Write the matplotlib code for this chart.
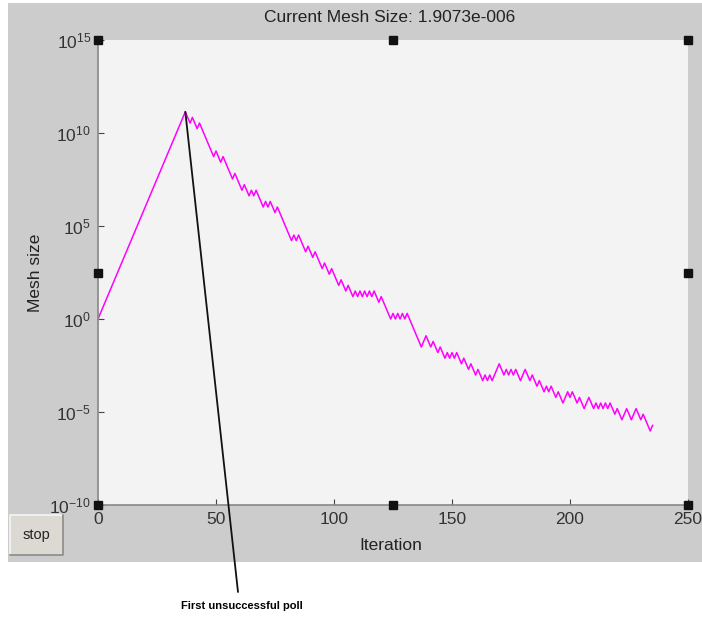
import matplotlib
matplotlib.use("Agg")
import matplotlib.pyplot as plt
from matplotlib.patches import Rectangle
from matplotlib.patches import ConnectionPatch
from matplotlib.lines import Line2D
import numpy as np

plt.rcParams['font.family'] = ['Liberation Sans', 'DejaVu Sans']
plt.rcParams['mathtext.fontset'] = 'custom'
plt.rcParams['mathtext.rm'] = 'Liberation Sans'

# log2 of mesh size per iteration (0..235)
mesh_log2 = [
    0, 1, 2, 3, 4, 5, 6, 7, 8, 9, 10, 11, 12, 13, 14, 15, 16, 17, 18, 19,
    20, 21, 22, 23, 24, 25, 26, 27, 28, 29, 30, 31, 32, 33, 34, 35, 36, 37,
    36, 35, 36, 35, 34, 35, 34, 33, 32, 31, 30,
    29, 30, 29, 28, 29, 28, 27, 26,
    25, 26, 25, 24, 23, 24, 23,
    22, 23, 22, 23, 22, 21, 20,
    21, 20, 21, 20, 19, 20, 19, 18,
    17, 16, 15, 14, 15, 14, 15, 14, 13, 12,
    13, 12, 11, 12, 11, 10, 9, 10, 9, 8,
    9, 8, 7, 6, 7, 6, 5, 6, 5, 4,
    5, 4, 5, 4, 5, 4, 5, 4, 5, 4, 3, 4, 3,
    2, 1, 0, 1, 0, 1, 0, 1, 0, 1, 0, -1,
    -2, -3, -4, -5, -4, -3, -4, -5, -4, -5,
    -6, -5, -6, -7, -6, -7, -6, -7, -6, -7, -8, -7,
    -8, -9, -8, -9, -10, -9, -10, -11, -10, -11, -10, -11, -10,
    -9, -8, -9, -10, -9, -10, -9, -10,
    -9, -10, -11, -10, -9, -10, -11, -10, -11, -12, -11,
    -12, -13, -12, -13, -12, -13, -14, -13, -14, -15, -14, -13,
    -14, -13, -14, -15, -14, -15, -16, -15, -14, -15, -16,
    -15, -16, -15, -16, -15, -16, -15, -16, -17, -16, -17, -18,
    -17, -16, -17, -18, -17, -16,
    -17, -18, -17, -18, -19, -20, -19,
]
iterations = np.arange(len(mesh_log2))
mesh_size = 2.0 ** np.array(mesh_log2, dtype=float)

x_ticks = [0, 50, 100, 150, 200, 250]
y_ticks = [1e-10, 1e-5, 1e0, 1e5, 1e10, 1e15]
y_tick_labels = [r'$\mathregular{10^{-10}}$', r'$\mathregular{10^{-5}}$', r'$\mathregular{10^{0}}$',
                 r'$\mathregular{10^{5}}$', r'$\mathregular{10^{10}}$', r'$\mathregular{10^{15}}$']
title_text = "Current Mesh Size: 1.9073e-006"
annot_text = "First unsuccessful poll"
peak_iter = 37

W, H = 702, 622
fig = plt.figure(figsize=(W / 100, H / 100), dpi=100)
fig.patch.set_facecolor('white')

# gray figure panel
fig.patches.append(Rectangle((8 / W, 1 - 562 / H), 694 / W, 559 / H,
                             transform=fig.transFigure, facecolor='#cccccc',
                             edgecolor='none', zorder=-10))

ax = fig.add_axes([98 / W, 1 - 505 / H, 590 / W, 465 / H])
ax.set_zorder(1)
ax.set_facecolor('#f3f3f3')
ax.plot(iterations, mesh_size, color='#ff00ff', lw=1.1)
ax.set_yscale('log')
ax.set_xlim(0, 250)
ax.set_ylim(1e-10, 1e15)
ax.set_xticks(x_ticks)
ax.set_xticklabels([str(v) for v in x_ticks])
ax.set_yticks(y_ticks)
ax.set_yticklabels(y_tick_labels)
ax.yaxis.set_minor_locator(matplotlib.ticker.NullLocator())
ax.tick_params(direction='in', length=4, width=0.8, color='#444444',
               labelsize=12.5, labelcolor='#333333', pad=5)
for s in ['top', 'right']:
    ax.spines[s].set_visible(False)
for s in ['left', 'bottom']:
    ax.spines[s].set_color('#888888')
    ax.spines[s].set_linewidth(1.2)

# selection handles
hx = [0, 0.5, 1, 0, 1, 0, 0.5, 1]
hy = [0, 0, 0, 0.5, 0.5, 1, 1, 1]
ax.plot(hx, hy, 's', color='#111111', ms=6, transform=ax.transAxes, clip_on=False, zorder=5)

fig.text(390 / W, 1 - 18 / H, title_text, ha='center', va='center', fontsize=12.5, color='#222222')
fig.text(391 / W, 1 - 545 / H, 'Iteration', ha='center', va='center', fontsize=12.5, color='#222222')
fig.text(36 / W, 1 - 273 / H, 'Mesh size', ha='center', va='center', rotation=90,
         fontsize=12.5, color='#222222')

# stop button with bevel
bx0, by0, bx1, by1 = 10, 515, 63, 555
fig.patches.append(Rectangle((bx0 / W, 1 - by1 / H), (bx1 - bx0) / W, (by1 - by0) / H,
                             transform=fig.transFigure, facecolor='#dcd9d3',
                             edgecolor='none', zorder=2))
fig.add_artist(Line2D([bx0 / W, bx0 / W, bx1 / W], [1 - by1 / H, 1 - by0 / H, 1 - by0 / H],
                      transform=fig.transFigure, color='#f5f5f5', lw=1.2, zorder=3))
fig.add_artist(Line2D([bx0 / W, bx1 / W, bx1 / W], [1 - by1 / H, 1 - by1 / H, 1 - by0 / H],
                      transform=fig.transFigure, color='#8a8a8a', lw=1.2, zorder=3))
fig.text(36.5 / W, 1 - 535 / H, 'stop', ha='center', va='center', fontsize=10.5, color='#222222',
         zorder=4)

# annotation
con = ConnectionPatch(xyA=(peak_iter, 2.0 ** mesh_log2[peak_iter]), coordsA='data', axesA=ax,
                      xyB=(238, H - 592), coordsB='figure pixels',
                      color='#111111', lw=1.3, zorder=6)
fig.add_artist(con)
con.set_zorder(6)
fig.text(242 / W, 1 - 606 / H, annot_text, ha='center', va='center', fontsize=8,
         fontweight='bold', color='black')

fig.savefig('out.png', dpi=100)
